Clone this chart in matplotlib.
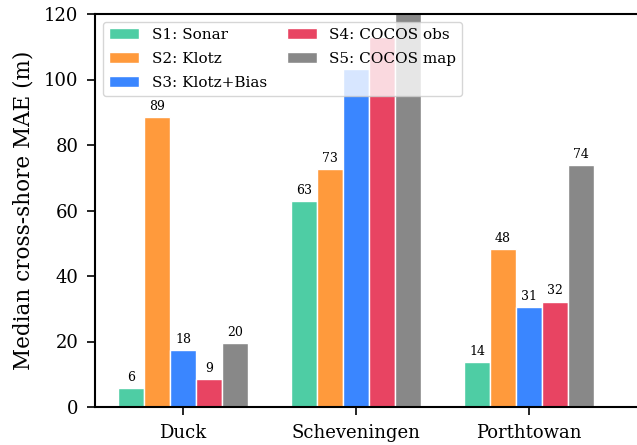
"""Grouped bar chart: median cross-shore MAE per site and scenario."""

import numpy as np
import matplotlib

matplotlib.use("Agg")
import matplotlib.pyplot as plt

sites = ["Duck", "Scheveningen", "Porthtowan"]
scenarios = ["S1: Sonar", "S2: Klotz", "S3: Klotz+Bias", "S4: COCOS obs", "S5: COCOS map"]

# Median cross-shore MAE (m), one list per scenario, ordered like `sites`.
s1_sonar = [5.8, 63.0, 13.6]
s2_klotz = [88.6, 72.6, 48.1]
s3_klotz_bias = [17.5, 103.2, 30.6]
s4_cocos_obs = [8.6, 113.0, 32.2]
s5_cocos_map = [19.5, 126.0, 73.9]

colors = ["#4ecda4", "#ff9a3c", "#3a86ff", "#e84462", "#888888"]

plt.rcParams["font.family"] = "DejaVu Serif"

fig = plt.figure(figsize=(6.37, 4.45), dpi=100)
ax = fig.add_axes([95 / 637, 38 / 445, 541 / 637, 393 / 445])

series = [s1_sonar, s2_klotz, s3_klotz_bias, s4_cocos_obs, s5_cocos_map]
x = np.arange(len(sites))
width = 0.15
for i, (label, vals, col) in enumerate(zip(scenarios, series, colors)):
    pos = x + (i - 2) * width
    bars = ax.bar(pos, vals, width, color=col, edgecolor="white", linewidth=1.0, label=label)
    # labels that would sit under the legend are not shown in the original
    for b, v in zip(bars, vals):
        if v < 100:
            ax.annotate(f"{v:.0f}", (b.get_x() + b.get_width() / 2, v),
                        xytext=(0, 3), textcoords="offset points",
                        ha="center", va="bottom", fontsize=9)

ax.set_xlim(-0.51, 2.62)
ax.set_ylim(0, 120)
ax.set_xticks(x)
ax.set_xticklabels(sites)
ax.set_yticks(np.arange(0, 121, 20))
ax.set_ylabel("Median cross-shore MAE (m)", fontsize=15.5, labelpad=7)
ax.tick_params(axis="both", labelsize=13, length=6, width=1.2)
ax.tick_params(axis="y", pad=6)
ax.tick_params(axis="x", pad=6)

ax.spines["right"].set_visible(False)
for side in ("left", "bottom", "top"):
    ax.spines[side].set_linewidth(1.5)

ax.legend(loc="upper left", ncol=2, fontsize=11, framealpha=0.8,
          columnspacing=1.3, labelspacing=0.65)

fig.savefig("out.png", dpi=100)
